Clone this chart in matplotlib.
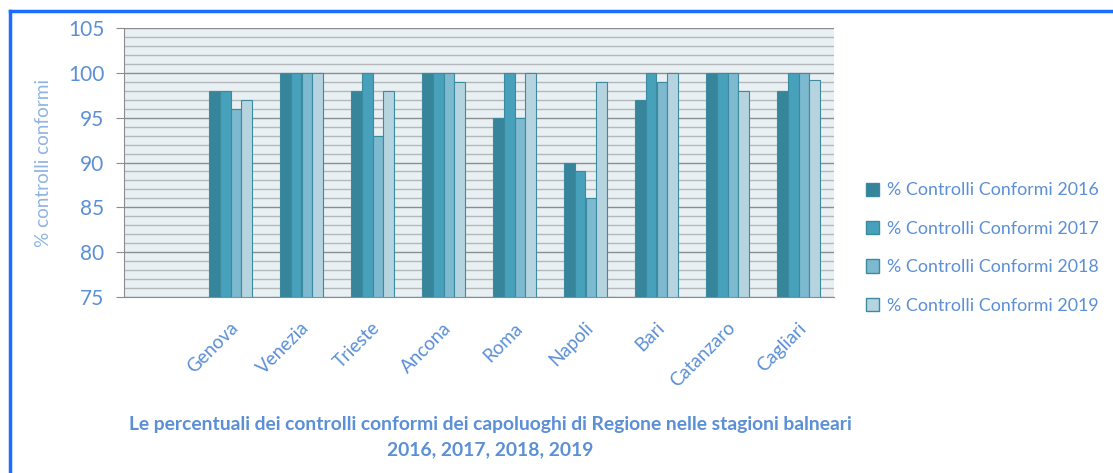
import matplotlib.pyplot as plt
import matplotlib.transforms as mtransforms
from matplotlib.lines import Line2D
from matplotlib.patches import Patch
import numpy as np

plt.rcParams['font.family'] = ['Lato', 'DejaVu Sans']

# dati
cities = ["", "Genova", "Venezia", "Trieste", "Ancona", "Roma",
          "Napoli", "Bari", "Catanzaro", "Cagliari"]
years = ["2016", "2017", "2018", "2019"]
conf_2016 = [np.nan, 98, 100, 98, 100, 95, 90, 97, 100, 98]
conf_2017 = [np.nan, 98, 100, 100, 100, 100, 89, 100, 100, 100]
conf_2018 = [np.nan, 96, 100, 93, 100, 95, 86, 99, 100, 100]
conf_2019 = [np.nan, 97, 100, 98, 99, 100, 99, 100, 98, 99.2]
series = [conf_2016, conf_2017, conf_2018, conf_2019]

colors = ["#37859a", "#47a1bb", "#7db9cf", "#b5d4e0"]
edge = "#3b8aa0"
txt = "#5b8fd6"

fig = plt.figure(figsize=(11.13, 4.73), dpi=100)
ax = fig.add_axes([124/1113, 1-297/473, 710/1113, 269/473])
ax.set_facecolor("#e9f0f3")

x = np.arange(len(cities))
w = 0.148
base = 75
for i, vals in enumerate(series):
    v = np.array(vals, dtype=float)
    ax.bar(x + (i - 1.5) * w, v - base, width=w, bottom=base,
           color=colors[i], edgecolor=edge, linewidth=0.8, zorder=3,
           label="% Controlli Conformi " + years[i])

ax.set_xlim(-0.5, len(cities) - 0.5)
ax.set_ylim(75, 105)
ax.set_yticks(range(75, 106, 5))
ax.set_yticks(range(75, 106, 1), minor=True)
ax.grid(axis='y', which='minor', color="#b4b8ba", linewidth=1.0, zorder=1)
ax.grid(axis='y', which='major', color="#8a8d8f", linewidth=1.0, zorder=1)
ax.tick_params(axis='y', which='minor', length=0)
ax.tick_params(axis='y', which='major', length=6, color="#8a8d8f",
               labelsize=15, labelcolor=txt, pad=8)

for s in ['top', 'right']:
    ax.spines[s].set_visible(False)
for s in ['left', 'bottom']:
    ax.spines[s].set_color("#8a8d8f")

ax.set_xticks(x)
ax.set_xticklabels(cities, rotation=45, ha='right', rotation_mode='anchor',
                   fontsize=13.5, color=txt)
ax.tick_params(axis='x', length=0, pad=16)
off = mtransforms.ScaledTranslation(-1/100, 0, fig.dpi_scale_trans)
for lab in ax.get_xticklabels():
    lab.set_transform(lab.get_transform() + off)

ax.set_ylabel("% controlli conformi", color="#8fb4e3", fontsize=13.7, labelpad=12)

handles = [Patch(facecolor=colors[i], edgecolor=edge, label="% Controlli Conformi " + years[i])
           for i in range(4)]
fig.legend(handles=handles, loc='center left', bbox_to_anchor=(866/1113, 1-248/473),
           frameon=False, fontsize=12.9, labelcolor=txt, handlelength=0.75,
           handleheight=0.75, handletextpad=0.4, labelspacing=1.25,
           borderpad=0, borderaxespad=0)

fig.text(490/1113, 1-424/473,
         "Le percentuali dei controlli conformi dei capoluoghi di Regione nelle stagioni balneari",
         ha='center', va='center', fontsize=13.9, fontweight='bold', color=txt)
fig.text(490/1113, 1-450/473, "2016, 2017, 2018, 2019",
         ha='center', va='center', fontsize=13.9, fontweight='bold', color=txt)

# cornice blu
fig.add_artist(Line2D([10/1113, 10/1113], [0, 1-11/473], color="#1a6dff", linewidth=2.5))
fig.add_artist(Line2D([10/1113, 1], [1-11/473, 1-11/473], color="#1a6dff", linewidth=2.5))

fig.savefig("out.png", dpi=100)
